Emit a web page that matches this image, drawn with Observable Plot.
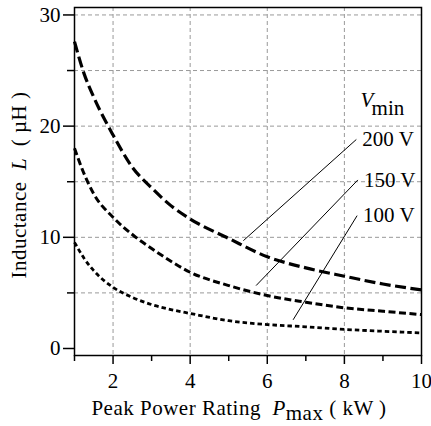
<!DOCTYPE html>
<html><head><meta charset="utf-8">
<script src="https://cdn.jsdelivr.net/npm/d3@7"></script>
<script src="https://cdn.jsdelivr.net/npm/@observablehq/plot@0.6"></script>
<style>
body{margin:0;background:#fff;}
svg, svg text { font-family: "Liberation Serif", "Times New Roman", serif !important; }
</style>
</head><body><div id="chart"></div>
<script>
// Peak power rating (kW)
const power = [1, 1.25, 1.5, 2, 2.5, 3, 3.5, 4, 5, 6, 7, 8, 9, 10];
// Inductance (µH) for each minimum voltage
const L200 = [27.6, 24.7, 22.6, 19.2, 16.3, 14.45, 12.85, 11.65, 9.9, 8.25, 7.25, 6.5, 5.8, 5.27];
const L150 = [18.0, 15.7, 13.9, 11.8, 10.25, 9.0, 7.85, 6.86, 5.66, 4.76, 4.16, 3.66, 3.35, 3.05];
const L100 = [9.55, 8.1, 7.0, 5.5, 4.6, 3.95, 3.5, 3.15, 2.5, 2.15, 1.95, 1.72, 1.55, 1.4];
const seriesNames = ["200 V", "150 V", "100 V"];
// leader lines (data space)
const leaderStartP = [5.38, 5.71, 6.67];
const leaderStartL = [9.7, 5.66, 2.58];
const leaderEndP = [8.31, 8.35, 8.33];
const leaderEndL = [18.8, 15.16, 11.95];
// legend heading V_min anchor (data space)
const headingP = [8.42];
const headingL = [22.35];
// ticks and grid
const xMajorTicks = [2, 4, 6, 8, 10];
const xMinorTicks = [1, 3, 5, 7, 9];
const yMajorTicks = [0, 10, 20, 30];
const yMinorTicks = [5, 15, 25];
const xGrid = [2, 4, 6, 8];
const yGrid = [5, 10, 15, 20, 25, 30];

const seriesValues = [L200, L150, L100];
const rows = seriesNames.flatMap((s, k) => power.map((p, i) => ({P: p, L: seriesValues[k][i], s})));
const leaders = seriesNames.map((s, k) => ({s, x1: leaderStartP[k], y1: leaderStartL[k], x2: leaderEndP[k], y2: leaderEndL[k]}));
const heading = headingP.map((p, i) => ({P: p, L: headingL[i]}));

const dashes = {"200 V": "11,4.5", "150 V": "7,3.5", "100 V": "4.5,3"};
const widths = {"200 V": 3.2, "150 V": 3, "100 V": 2.8};

const font = "Liberation Serif, Times New Roman, serif";
const chart = Plot.plot({
  width: 431, height: 426,
  marginLeft: 74, marginRight: 10, marginTop: 7, marginBottom: 71,
  style: {fontFamily: font, fontSize: "21px", background: "white", color: "black"},
  x: {domain: [1, 10]},
  y: {domain: [-0.63, 30.67]},
  marks: [
    Plot.ruleX(xGrid, {stroke: "#999", strokeWidth: 1, strokeDasharray: "4,3"}),
    Plot.ruleY(yGrid, {stroke: "#999", strokeWidth: 1, strokeDasharray: "4,3"}),
    ...seriesNames.map(s => Plot.line(rows.filter(d => d.s === s), {
      x: "P", y: "L", curve: "monotone-x", stroke: "black",
      strokeWidth: widths[s], strokeDasharray: dashes[s], strokeLinecap: "butt"
    })),
    Plot.link(leaders, {x1: "x1", y1: "y1", x2: "x2", y2: "y2", stroke: "black", strokeWidth: 1}),
    Plot.text(leaders, {x: "x2", y: "y2", text: "s", textAnchor: "start", dx: 6, fontSize: 21}),
    Plot.text(heading, {x: "P", y: "L", text: () => "V", fontStyle: "italic", textAnchor: "start", fontSize: 21}),
    Plot.text(heading, {x: "P", y: "L", text: () => "min", textAnchor: "start", dx: 11, dy: 8, fontSize: 21}),
    Plot.frame({stroke: "black", strokeWidth: 1.5}),
    Plot.axisX(xMajorTicks, {tickSize: 9, tickPadding: 9, strokeWidth: 1.5, label: null, fontSize: 21}),
    Plot.axisX(xMinorTicks, {tickSize: 6, strokeWidth: 1.5, tickFormat: () => "", label: null}),
    Plot.axisY(yMajorTicks, {tickSize: 11, tickPadding: 3, strokeWidth: 1.5, label: null, fontSize: 21}),
    Plot.axisY(yMinorTicks, {tickSize: 7, strokeWidth: 1.5, tickFormat: () => "", label: null})
  ]
});
document.getElementById("chart").appendChild(chart);

const svg = d3.select(chart);
const xl = svg.append("text").attr("x", 239).attr("y", 415).attr("text-anchor", "middle")
  .attr("font-size", 21).attr("letter-spacing", 0.5).attr("fill", "black");
xl.append("tspan").text("Peak Power Rating\u00a0 ");
xl.append("tspan").attr("font-style", "italic").text("P");
xl.append("tspan").attr("dy", 5).text("max");
xl.append("tspan").attr("dy", -5).text(" ( kW )");

const yl = svg.append("text").attr("transform", "translate(26,185) rotate(-90)").attr("text-anchor", "middle")
  .attr("font-size", 21).attr("letter-spacing", 0.5).attr("fill", "black");
yl.append("tspan").text("Inductance\u00a0 ");
yl.append("tspan").attr("font-style", "italic").text("L");
yl.append("tspan").text("\u00a0 ( µH )");
</script>
</body></html>
